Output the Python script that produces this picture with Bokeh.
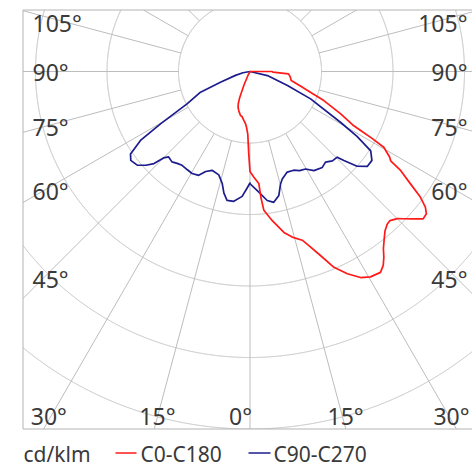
import numpy as np
from bokeh.plotting import figure
from bokeh.models import Range1d
from bokeh.core.properties import value
from bokeh.embed import file_html
from bokeh.resources import INLINE

# ---------------- data (cd/klm vs. gamma angle in degrees) ----------------
c0_angles = [0, 2.1, 4.5, 5, 5.7, 8.5, 11.9, 14.3, 17.2, 18.7, 21, 23.2, 25.7, 28.2,
             30.4, 33, 34.5, 35.8, 37, 39.1, 40.3, 42, 43.2, 45, 46.1, 48, 49.6, 51.1,
             52.3, 53.6, 55, 56.7, 57.6, 58.5, 60.5, 61.3, 61.9, 62.5, 65, 68.5, 70.9,
             73.8, 77.7, 82, 86.6, 88.3, 90]
c0_values = [140, 148, 157, 178, 195, 211, 230, 239, 247, 257, 276, 298, 314, 327,
             333, 335, 329, 320, 310, 298, 292, 287, 286, 291, 297, 308, 318, 317,
             310, 296, 274, 252, 233, 229, 215, 194, 176, 162, 140, 111, 90,
             74, 59, 57, 54, 32, 31]

c180_angles = [0, 1, 2, 3.6, 5, 7.2, 10, 12.2, 14, 16, 18.3, 20, 21.6, 24, 27, 30, 90]
c180_values = [140, 112, 88, 78, 73, 69, 64, 63, 60, 57, 53, 48, 39, 21, 7, 0, 0]

c90_angles = [0, 3.5, 7.6, 10.3, 13.1, 15.2, 16.7, 20.3, 23.9, 26.6, 29.7, 32.8, 37,
              39.8, 42.7, 45.5, 46.5, 48.5, 51, 53.9, 56.7, 58.8, 60.7, 65.7, 69.4,
              76.9, 90]
c90_values = [157, 167, 182, 186, 178, 163, 157, 150, 151, 155, 157, 165, 168,
              165, 170, 171, 181, 200, 211, 211, 202, 175, 145, 93, 56,
              25, 0]

c270_angles = [0, 1.4, 3.6, 7.1, 10.1, 12.1, 14, 16.8, 21, 23.9, 26.3, 29.6, 32.5,
               35.9, 38.4, 40.8, 43.6, 45, 46.2, 48, 50.3, 53.3, 55.4, 57.8, 59.7,
               62.8, 67.3, 70.1, 75, 80, 90]
c270_values = [156, 163, 175, 183, 183, 174, 161, 151, 148, 153, 162, 164, 163,
               162, 164, 167, 165, 171, 186, 196, 205, 208, 203, 181, 145,
               99, 75, 44, 21, 10, 0]

grid_radii = [100, 200, 300, 400, 500, 600, 700, 800]
spoke_angles = list(range(0, 360, 15))
left_label_angles = [105, 90, 75, 60, 45]
bottom_label_angles = [30, 15, 0]
unit_label = "cd/klm"
series_names = ["C0-C180", "C90-C270"]
series_colors = ["#ff1a1a", "#1c1c8c"]

# ---------------- layout constants (page pixels) ----------------
W, H = 472, 467
PX = 0.715            # pixels per cd/klm
CX, CY = 249.5, 71.0  # pole position on the page
FL, FT, FB = 22.5, 9.5, 428.5   # frame left / top / bottom on the page


def gx(xp):
    return (xp - CX) / PX


def gy(yp):
    return (CY - yp) / PX


XL, XR, YT, YB = gx(FL), gx(W + 5), gy(FT), gy(FB)   # frame in data units

p = figure(width=W, height=H, output_backend="svg", toolbar_location=None,
           x_range=Range1d(gx(0), gx(W)), y_range=Range1d(gy(H), gy(0)),
           x_axis_type=None, y_axis_type=None, min_border=0,
           outline_line_color=None, background_fill_color="white")
p.grid.visible = False

GRID = "#bdbdbd"
# circles, cut at the frame
t = np.radians(np.linspace(0, 360, 7201))
for r in grid_radii:
    cx_, cy_ = r * np.sin(t), -r * np.cos(t)
    out = (cx_ < XL) | (cy_ > YT) | (cy_ < YB)
    cx_ = np.where(out, np.nan, cx_)
    cy_ = np.where(out, np.nan, cy_)
    p.line(cx_, cy_, line_color=GRID, line_width=1)
# spokes from the inner circle to the frame edge
for a in spoke_angles:
    ar = np.radians(a)
    dx, dy = np.sin(ar), -np.cos(ar)
    ends = []
    if dx < -1e-9:
        ends.append(XL / dx)
    if dx > 1e-9:
        ends.append(XR / dx)
    if dy < -1e-9:
        ends.append(YB / dy)
    if dy > 1e-9:
        ends.append(YT / dy)
    tmax = min(ends)
    if tmax <= grid_radii[0]:
        continue
    p.line([grid_radii[0] * dx, tmax * dx], [grid_radii[0] * dy, tmax * dy],
           line_color=GRID, line_width=1)


def polar_path(angles_l, vals_l, angles_r, vals_r):
    al = np.radians(np.array(angles_l[::-1], float))
    vl = np.array(vals_l[::-1], float)
    ar = np.radians(np.array(angles_r, float))
    vr = np.array(vals_r, float)
    xs = np.concatenate([-vl * np.sin(al), vr * np.sin(ar), [0.0]])
    ys = np.concatenate([-vl * np.cos(al), -vr * np.cos(ar), [0.0]])
    return xs, ys


bx, by = polar_path(c270_angles, c270_values, c90_angles, c90_values)
p.line(bx, by, line_color=series_colors[1], line_width=1.7, line_join="round")
rx, ry = polar_path(c180_angles, c180_values, c0_angles, c0_values)
p.line(rx, ry, line_color=series_colors[0], line_width=1.7, line_join="round")

# masks outside the frame
x0, x1 = gx(-20), gx(W + 20)
y0, y1 = gy(H + 20), gy(-20)
p.quad(left=[x0, x0, x0], right=[XL, x1, x1], bottom=[y0, y0, YT],
       top=[y1, YB, y1], fill_color="white", line_color=None)
FRAME = "#b4b4b4"
p.line([XL, XL], [YT, YB], line_color=FRAME, line_width=1)
p.line([XL, x1], [YT, YT], line_color=FRAME, line_width=1)
p.line([XL, x1], [YB, YB], line_color=FRAME, line_width=1)

# angle labels
TXT = "#3a3a3a"
LFONT = value("Noto Sans")
LSIZE = 23
ly, ltxt = [], []
for a in left_label_angles:
    ar = np.radians(a)
    yc = max(CY + (CX - 42.5) * np.cos(ar) / np.sin(ar), 22.5)
    ly.append(gy(yc))
    ltxt.append(f"{a}°")
p.text(x=[gx(32)] * len(ly), y=ly, text=ltxt, text_font=LFONT, text_font_size=f"{LSIZE}px",
       text_color=TXT, text_align="left", text_baseline="middle")
p.text(x=[gx(467)] * len(ly), y=ly, text=ltxt, text_font=LFONT, text_font_size=f"{LSIZE}px",
       text_color=TXT, text_align="right", text_baseline="middle")
bxs, btxt, balign = [], [], []
for a in bottom_label_angles:
    off = 351 * np.tan(np.radians(a))
    if a == 0:
        bxs.append(gx(CX + 2))
        btxt.append(f"{a}°")
        balign.append("right")
        continue
    for s in (-1, 1):
        bxs.append(gx(min(CX + 1.5 + s * off, 451)))
        btxt.append(f"{a}°")
        balign.append("center")
p.text(x=bxs, y=[gy(415)] * len(bxs), text=btxt, text_font=LFONT,
       text_font_size=f"{LSIZE}px", text_color=TXT, text_align=balign,
       text_baseline="middle")

# legend
p.text(x=[gx(23), gx(140), gx(273)], y=[gy(453)] * 3,
       text=[unit_label, series_names[0], series_names[1]], text_font=LFONT,
       text_font_size="21px", text_color=TXT, text_align="left", text_baseline="middle")
p.segment(x0=[gx(115), gx(248)], y0=[gy(452.5)] * 2, x1=[gx(136), gx(270)], y1=[gy(452.5)] * 2,
          line_color=series_colors, line_width=1.3)

open("out.html", "w").write(file_html(p, INLINE))
